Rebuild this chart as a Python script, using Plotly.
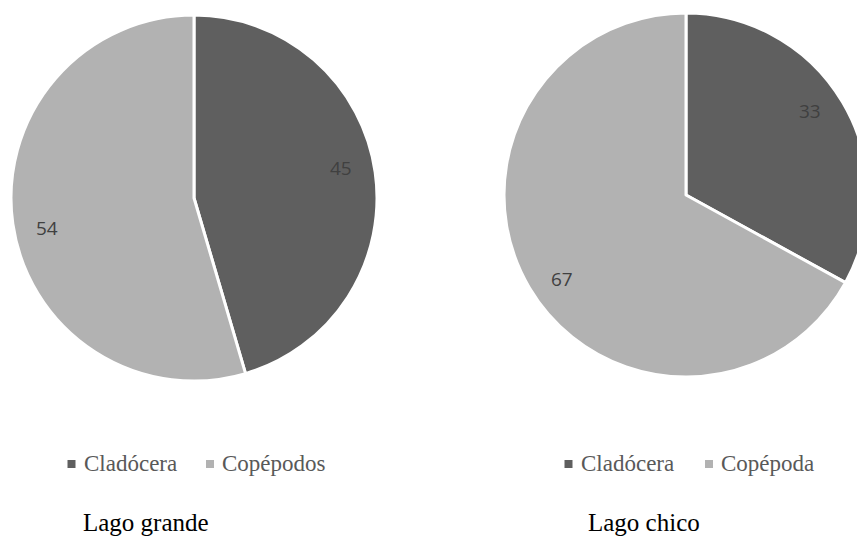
import math
import plotly.graph_objects as go

# Zooplankton composition (%) in each lake
lake_titles = ["Lago grande", "Lago chico"]
labels_grande = ["Cladócera", "Copépodos"]
values_grande = [45, 54]
labels_chico = ["Cladócera", "Copépoda"]
values_chico = [33, 67]

slice_colors = ["#5f5f5f", "#b2b2b2"]

W, H = 880, 537

# pie geometry in pixels: centre x, centre y (from top), radius
pies = [
    dict(labels=labels_grande, values=values_grande, cx=194, cy=198, r=183,
         legend_x=[71.5, 210], title_x=83),
    dict(labels=labels_chico, values=values_chico, cx=686, cy=195, r=182,
         legend_x=[568.5, 709], title_x=588),
]


def px(x):
    return x / W


def py(y):
    return 1 - y / H


fig = go.Figure()
annotations = []
shapes = []

for p in pies:
    cx, cy, r = p["cx"], p["cy"], p["r"]
    fig.add_trace(go.Pie(
        labels=p["labels"],
        values=p["values"],
        sort=False,
        direction="clockwise",
        rotation=0,
        textinfo="none",
        hoverinfo="label+value",
        showlegend=False,
        marker=dict(colors=slice_colors, line=dict(color="white", width=3)),
        domain=dict(x=[px(cx - r), px(cx + r)], y=[py(cy + r), py(cy - r)]),
    ))

    # value labels placed on each slice's bisector
    total = sum(p["values"])
    start = 0.0
    for v in p["values"]:
        mid = (start + v / 2) / total * 360 - 3.5
        start += v
        rad = math.radians(mid)
        lx = cx + 0.82 * r * math.sin(rad)
        ly = cy - 0.82 * r * math.cos(rad)
        annotations.append(dict(
            x=px(lx), y=py(ly), xref="paper", yref="paper",
            text=str(v), showarrow=False, xanchor="center", yanchor="middle",
            font=dict(family="Open Sans", size=19, color="#404040"),
        ))

    # legend: small squares + serif labels
    for i, (lab, sx) in enumerate(zip(p["labels"], p["legend_x"])):
        shapes.append(dict(
            type="rect", xref="paper", yref="paper",
            x0=px(sx - 4), x1=px(sx + 4), y0=py(468), y1=py(460),
            fillcolor=slice_colors[i], line=dict(width=0),
        ))
        annotations.append(dict(
            x=px(sx + 10), y=py(463), xref="paper", yref="paper",
            text=lab, showarrow=False, xanchor="left", yanchor="middle",
            font=dict(family="Liberation Serif", size=23, color="#595959"),
        ))

for p, t in zip(pies, lake_titles):
    annotations.append(dict(
        x=px(p["title_x"] - 2), y=py(522), xref="paper", yref="paper",
        text=t, showarrow=False, xanchor="left", yanchor="middle",
        font=dict(family="Liberation Serif", size=25, color="#000000"),
    ))

fig.update_layout(
    width=W, height=H,
    margin=dict(l=0, r=0, t=0, b=0),
    paper_bgcolor="white", plot_bgcolor="white",
    annotations=annotations, shapes=shapes,
    showlegend=False,
)

fig.write_html(
    "out.html",
    config={"displayModeBar": False},
    post_script="document.documentElement.style.overflow='hidden';"
                "document.body.style.overflow='hidden';"
                "document.body.style.margin='0';",
)
